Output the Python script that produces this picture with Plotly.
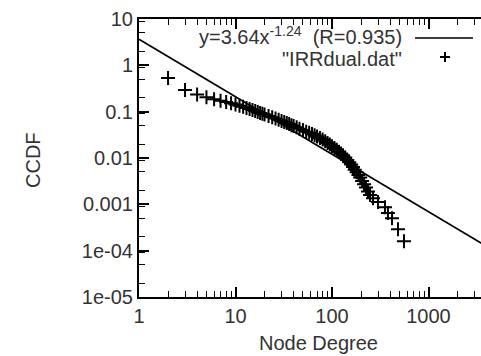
import plotly.graph_objects as go

# ---- data ----
degree = [2, 3, 4, 5, 6, 7, 8, 9, 10, 11, 12, 13, 14, 15, 16, 17, 18, 19, 20,
          22, 24, 26, 28, 30, 32, 34, 36, 38, 40,
          43, 46, 50, 54, 58, 62, 66, 70, 75, 80, 85, 90, 95, 100,
          106, 112, 118, 124, 130, 137, 144, 151, 158, 165, 172, 180, 188, 196,
          205, 215, 225, 236, 248, 266, 300, 354, 380, 419, 483, 557]
ccdf = [0.53, 0.295, 0.235, 0.205, 0.185, 0.172, 0.161, 0.151, 0.142, 0.134,
        0.127, 0.120, 0.114, 0.108, 0.103, 0.098, 0.094, 0.090, 0.087,
        0.081, 0.076, 0.071, 0.067, 0.063, 0.060, 0.057, 0.054, 0.051, 0.049,
        0.046, 0.043, 0.040, 0.037, 0.035, 0.033, 0.031, 0.029, 0.027, 0.025,
        0.023, 0.021, 0.0195, 0.018,
        0.0165, 0.0150, 0.0137, 0.0125, 0.0114, 0.0102, 0.0091, 0.0081, 0.0072,
        0.0064, 0.0056, 0.0049, 0.0043, 0.0038,
        0.0032, 0.0027, 0.0023, 0.0019, 0.0016, 0.00136, 0.00112, 0.00087,
        0.00065, 0.0005, 0.00029, 0.00016]

fit_a = 3.64
fit_b = -1.24
fit_x = [1, 4000]
fit_y = [fit_a * x ** fit_b for x in fit_x]

x_tickvals = [1, 10, 100, 1000]
x_ticktext = ["1", "10", "100", "1000"]
y_tickvals = [10, 1, 0.1, 0.01, 0.001, 1e-4, 1e-5]
y_ticktext = ["10", "1", "0.1", "0.01", "0.001", "1e-04", "1e-05"]
y_minor = [m * 10.0 ** p for p in range(-5, 1) for m in (2, 5, 9)]

W, H = 481, 356
L, R, T, B = 139, 0, 19, 59
pw, ph = W - L - R, H - T - B

def px(xp):
    return (xp - L) / pw

def py(yp):
    return (H - B - yp) / ph

FONT = "Liberation Sans, Arial, sans-serif"
TXT = "#333333"
FS = 20

fig = go.Figure()
fig.add_trace(go.Scatter(x=fit_x, y=fit_y, mode="lines",
                         line=dict(color="black", width=1.7),
                         showlegend=False, hoverinfo="skip"))
fig.add_trace(go.Scatter(x=degree, y=ccdf, mode="markers",
                         marker=dict(symbol="cross-thin", size=10, color="black",
                                     line=dict(color="black", width=2)),
                         showlegend=False))

axis_common = dict(showgrid=False, zeroline=False, showline=True, linecolor="black",
                   linewidth=2, ticks="inside", tickcolor="black", tickwidth=1.5,
                   ticklen=10, tickfont=dict(family=FONT, size=FS, color=TXT),
                   ticklabelstandoff=0)

fig.update_xaxes(type="log", range=[0, pw / 96.5], tickmode="array",
                 tickvals=x_tickvals, ticktext=x_ticktext, mirror="ticks",
                 minor=dict(ticks="inside", ticklen=6, tickcolor="black",
                            tickwidth=1.3, dtick="D1", showgrid=False),
                 **axis_common)
fig.update_yaxes(type="log", range=[-5, 1], tickmode="array",
                 tickvals=y_tickvals, ticktext=y_ticktext, mirror=False,
                 minor=dict(ticks="inside", ticklen=6, tickcolor="black",
                            tickwidth=1.3, tickmode="array", tickvals=y_minor,
                            showgrid=False),
                 **axis_common)

annotations = [
    dict(text="y=3.64x<sup>-1.24</sup>\u00a0\u00a0(R=0.935)", x=px(404), y=py(36),
         xanchor="right", yanchor="middle"),
    dict(text='"IRRdual.dat"', x=px(404), y=py(59), xanchor="right", yanchor="middle"),
    dict(text="CCDF", x=px(33), y=py(160), xanchor="center", yanchor="middle",
         textangle=-90),
    dict(text="Node Degree", x=px(318), y=py(343), xanchor="center", yanchor="middle"),
]
for a in annotations:
    a.update(xref="paper", yref="paper", showarrow=False,
             font=dict(family=FONT, size=FS, color=TXT))

shapes = [
    dict(type="line", xref="paper", yref="paper", x0=px(415), x1=px(473),
         y0=py(38), y1=py(38), line=dict(color="black", width=1.7)),
    dict(type="line", xref="paper", yref="paper", x0=px(440), x1=px(450),
         y0=py(57), y1=py(57), line=dict(color="black", width=2)),
    dict(type="line", xref="paper", yref="paper", x0=px(445), x1=px(445),
         y0=py(52), y1=py(62), line=dict(color="black", width=2)),
]

fig.update_layout(width=W, height=H, margin=dict(l=L, r=R, t=T, b=B),
                  paper_bgcolor="white", plot_bgcolor="white",
                  annotations=annotations, shapes=shapes, showlegend=False)

fig.write_html("out.html")
